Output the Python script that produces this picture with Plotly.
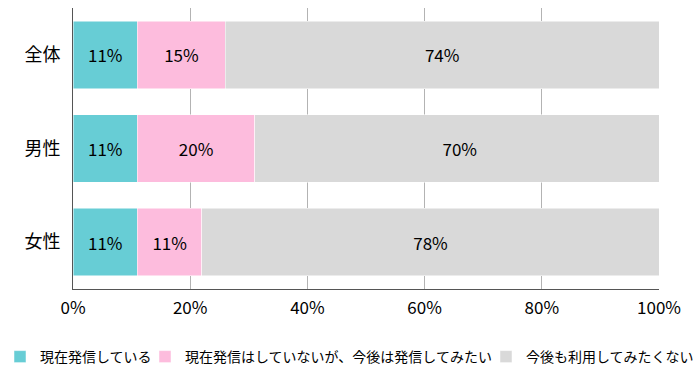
import plotly.graph_objects as go

categories = ["全体", "男性", "女性"]
series_names = ["現在発信している", "現在発信はしていないが、今後は発信してみたい", "今後も利用してみたくない"]
current = [11, 11, 11]
future = [15, 20, 11]
never = [74, 70, 78]
tick_vals = [0, 20, 40, 60, 80, 100]
tick_text = ["0%", "20%", "40%", "60%", "80%", "100%"]

colors = ["#67CDD5", "#FDBCDD", "#D9D9D9"]
FONT = "Noto Sans CJK JP"
legend_ids = ["legend", "legend2", "legend3"]
legend_x = [0, 145, 486]  # container pixels

fig = go.Figure()
for name, vals, col, lg in zip(series_names, [current, future, never], colors, legend_ids):
    fig.add_trace(go.Bar(
        y=categories, x=vals, name=name, orientation="h",
        marker=dict(color=col, line=dict(color="white", width=0.5)),
        text=[f"{v}%" for v in vals], textposition="inside",
        insidetextanchor="middle",
        textfont=dict(color="black", size=17, family=FONT),
        hoverinfo="skip", legend=lg,
    ))

legend_common = dict(
    orientation="h", xref="container", yref="container",
    xanchor="left", y=1 - 357 / 386, yanchor="middle",
    font=dict(size=14, family=FONT), itemwidth=30,
    bgcolor="rgba(0,0,0,0)", borderwidth=0,
)
layout_legends = {}
for lg, lx in zip(legend_ids, legend_x):
    layout_legends[lg] = dict(legend_common, x=lx / 700)

fig.update_layout(
    barmode="stack",
    bargap=0.28,
    width=700, height=386,
    margin=dict(l=73, r=41, t=8, b=97, autoexpand=False),
    plot_bgcolor="white", paper_bgcolor="white",
    font=dict(family=FONT, color="black"),
    showlegend=True,
    **layout_legends,
)
fig.update_xaxes(
    range=[0, 100], tickvals=tick_vals, ticktext=tick_text,
    showgrid=True, gridcolor="#b3b3b3", gridwidth=1,
    showline=True, linecolor="#555555", linewidth=1,
    zeroline=False, ticks="", tickfont=dict(size=17, family=FONT),
    ticklabelstandoff=4,
    fixedrange=True,
)
fig.update_yaxes(
    autorange="reversed",
    showline=True, linecolor="#555555", linewidth=1,
    ticks="", ticklen=0, tickfont=dict(size=18, family=FONT),
    ticklabelstandoff=8,
    fixedrange=True,
)

fig.write_html("out.html", config={"displayModeBar": False},
               post_script="document.body.style.margin='0';")
